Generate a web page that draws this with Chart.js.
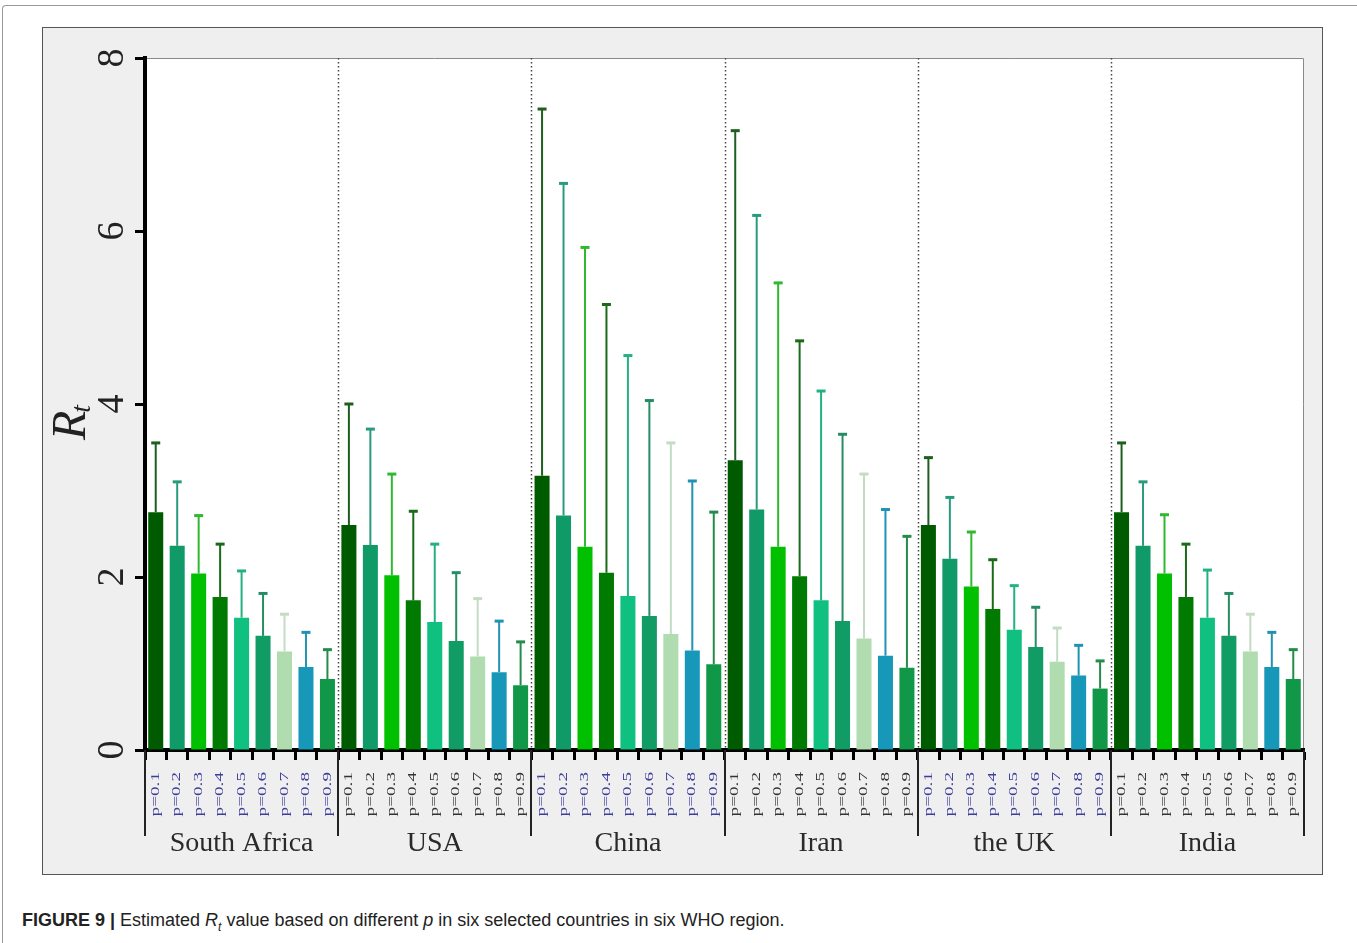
<!DOCTYPE html>
<html lang="en">
<head>
<meta charset="UTF-8">
<title>Estimated Rt by p</title>
<style>
    body {
        margin: 0;
        background: #fff;
        width: 1357px;
        height: 943px;
        position: relative;
        overflow: hidden;
        font-family: "Liberation Sans", Arial, sans-serif;
    }
    .frame {
        position: absolute;
        left: 2px;
        top: 5px;
        width: 1360px;
        height: 950px;
        border-top: 1px solid #9a9a9a;
        border-left: 1px solid #9a9a9a;
        border-top-left-radius: 4px;
    }
    #panel {
        position: absolute;
        left: 42px;
        top: 27px;
        width: 1281px;
        height: 848px;
        box-sizing: border-box;
        border: 1px solid #555;
        background: #efefef;
    }
    .caption {
        position: absolute;
        left: 22px;
        top: 910px;
        font-size: 18px;
        color: #222;
        font-family: "Liberation Sans Narrow", "Liberation Sans", Arial, sans-serif;
        white-space: nowrap;
    }
    .caption b { font-weight: bold; }
</style>
</head>
<body>
<div class="frame"></div>
<div id="panel"><canvas id="rtChart" width="1279" height="846"></canvas></div>
<div class="caption"><b>FIGURE 9 |</b> Estimated <i>R</i><sub style="font-size:12px;"><i>t</i></sub> value based on different <i>p</i> in six selected countries in six WHO region.</div>

<script src="https://cdn.jsdelivr.net/npm/chart.js"></script>
<script>
    const countries = ['South Africa', 'USA', 'China', 'Iran', 'the UK', 'India'];
    const pLabels = ['p=0.1', 'p=0.2', 'p=0.3', 'p=0.4', 'p=0.5', 'p=0.6', 'p=0.7', 'p=0.8', 'p=0.9'];
    const yTicks = [0, 2, 4, 6, 8];

    // estimated Rt and upper limit of the error bar, p = 0.1 .. 0.9
    const southAfricaRt    = [2.75, 2.36, 2.04, 1.77, 1.53, 1.32, 1.14, 0.96, 0.82];
    const southAfricaUpper = [3.55, 3.10, 2.71, 2.38, 2.07, 1.81, 1.57, 1.36, 1.16];
    const usaRt    = [2.60, 2.37, 2.02, 1.73, 1.48, 1.26, 1.08, 0.90, 0.75];
    const usaUpper = [4.00, 3.71, 3.19, 2.76, 2.38, 2.05, 1.75, 1.49, 1.25];
    const chinaRt    = [3.17, 2.71, 2.35, 2.05, 1.78, 1.55, 1.34, 1.15, 0.99];
    const chinaUpper = [7.41, 6.55, 5.81, 5.15, 4.56, 4.04, 3.55, 3.11, 2.75];
    const iranRt    = [3.35, 2.78, 2.35, 2.01, 1.73, 1.49, 1.29, 1.09, 0.95];
    const iranUpper = [7.16, 6.18, 5.40, 4.73, 4.15, 3.65, 3.19, 2.78, 2.47];
    const ukRt    = [2.60, 2.21, 1.89, 1.63, 1.39, 1.19, 1.02, 0.86, 0.71];
    const ukUpper = [3.38, 2.92, 2.52, 2.20, 1.90, 1.65, 1.41, 1.21, 1.03];
    const indiaRt    = [2.75, 2.36, 2.04, 1.77, 1.53, 1.32, 1.14, 0.96, 0.82];
    const indiaUpper = [3.55, 3.10, 2.72, 2.38, 2.08, 1.81, 1.57, 1.36, 1.16];

    const barColors = ['#005a00', '#109a68', '#00c000', '#007a00', '#10c080', '#109c64', '#b0dcb0', '#1898b8', '#109848'];
    const errColors = ['#1e5e1e', '#2a9a7e', '#30b830', '#1a6a1a', '#22b27e', '#268c64', '#c4dcc4', '#2092b2', '#248c48'];
    const tickColors = ['#3c3c9c', '#333333', '#3c3c9c', '#333333', '#3c3c9c', '#333333'];

    const rtValues = [].concat(southAfricaRt, usaRt, chinaRt, iranRt, ukRt, indiaRt);
    const rtUpper = [].concat(southAfricaUpper, usaUpper, chinaUpper, iranUpper, ukUpper, indiaUpper);
    const labels = [];
    countries.forEach(() => pLabels.forEach(p => labels.push(p)));

    const serif = '"Liberation Serif", "Times New Roman", serif';

    const decor = {
        id: 'decor',
        beforeDraw(chart) {
            const { ctx, chartArea: a } = chart;
            ctx.save();
            ctx.fillStyle = '#fff';
            ctx.fillRect(a.left, a.top, a.right - a.left, a.bottom - a.top);
            ctx.strokeStyle = '#8a8a8a';
            ctx.lineWidth = 1;
            ctx.beginPath();
            ctx.moveTo(a.left, a.top + 0.5);
            ctx.lineTo(a.right - 0.5, a.top + 0.5);
            ctx.lineTo(a.right - 0.5, a.bottom);
            ctx.stroke();
            ctx.restore();
        },
        beforeDatasetsDraw(chart) {
            const { ctx, chartArea: a, scales: { x } } = chart;
            ctx.save();
            ctx.strokeStyle = '#444';
            ctx.lineWidth = 1.5;
            ctx.setLineDash([1.5, 2.5]);
            for (let g = 1; g < countries.length; g++) {
                const xp = Math.round((x.getPixelForValue(g * 9 - 1) + x.getPixelForValue(g * 9)) / 2) + 0.5;
                ctx.beginPath();
                ctx.moveTo(xp, a.top);
                ctx.lineTo(xp, a.bottom);
                ctx.stroke();
            }
            ctx.restore();
        },
        afterDatasetsDraw(chart) {
            const { ctx, scales: { y } } = chart;
            const meta = chart.getDatasetMeta(0);
            ctx.save();
            meta.data.forEach((bar, i) => {
                const top = y.getPixelForValue(rtUpper[i]);
                const base = y.getPixelForValue(rtValues[i]);
                ctx.strokeStyle = errColors[i % 9];
                ctx.lineWidth = 2;
                ctx.beginPath();
                ctx.moveTo(bar.x, base);
                ctx.lineTo(bar.x, top);
                ctx.stroke();
                ctx.lineWidth = 3;
                ctx.beginPath();
                ctx.moveTo(bar.x - 4.5, top);
                ctx.lineTo(bar.x + 4.5, top);
                ctx.stroke();
            });
            ctx.restore();
        },
        afterDraw(chart) {
            const { ctx, chartArea: a, scales: { x, y } } = chart;
            ctx.save();

            // y tick labels, turned like the rest of the figure
            ctx.fillStyle = '#222';
            ctx.font = '38px ' + serif;
            ctx.textAlign = 'center';
            ctx.textBaseline = 'middle';
            yTicks.forEach(v => {
                ctx.save();
                ctx.translate(a.left - 32, y.getPixelForValue(v));
                ctx.rotate(-Math.PI / 2);
                ctx.fillText(String(v), 0, 0);
                ctx.restore();
            });

            // axis title R_t
            ctx.save();
            ctx.translate(a.left - 60, 440 - 28);
            ctx.rotate(-Math.PI / 2);
            ctx.textAlign = 'left';
            ctx.textBaseline = 'alphabetic';
            ctx.font = 'italic 48px ' + serif;
            ctx.fillText('R', 0, 0);
            const wR = ctx.measureText('R').width;
            ctx.font = 'italic 28px ' + serif;
            ctx.fillText('t', wR - 2, 5);
            ctx.restore();

            // category labels p=0.x
            ctx.font = '12px ' + serif;
            ctx.textAlign = 'right';
            ctx.textBaseline = 'middle';
            labels.forEach((lab, i) => {
                ctx.save();
                ctx.fillStyle = tickColors[Math.floor(i / 9)];
                ctx.translate(x.getPixelForValue(i), a.bottom + 22);
                ctx.rotate(-Math.PI / 2);
                ctx.scale(1.6, 1);
                ctx.fillText(lab, 0, 0);
                ctx.restore();
            });

            // group separators and country names
            const edges = [a.left];
            for (let g = 1; g < countries.length; g++) {
                edges.push((x.getPixelForValue(g * 9 - 1) + x.getPixelForValue(g * 9)) / 2);
            }
            edges.push(a.right);
            ctx.strokeStyle = '#222';
            ctx.lineWidth = 2;
            edges.forEach(e => {
                const xp = Math.round(e);
                ctx.beginPath();
                ctx.moveTo(xp, a.bottom);
                ctx.lineTo(xp, a.bottom + 86);
                ctx.stroke();
            });
            ctx.fillStyle = '#2a2a2a';
            ctx.font = '28px ' + serif;
            ctx.textAlign = 'center';
            ctx.textBaseline = 'middle';
            countries.forEach((c, g) => {
                ctx.fillText(c, (edges[g] + edges[g + 1]) / 2, a.bottom + 94);
            });
            ctx.restore();
        }
    };

    new Chart(document.getElementById('rtChart'), {
        type: 'bar',
        data: {
            labels: labels,
            datasets: [{
                data: rtValues,
                backgroundColor: rtValues.map((v, i) => barColors[i % 9]),
                borderWidth: 0,
                categoryPercentage: 1,
                barPercentage: 0.7
            }]
        },
        options: {
            responsive: false,
            animation: false,
            devicePixelRatio: 1,
            layout: { padding: { left: 0, top: 30, right: 18, bottom: 0 } },
            plugins: {
                legend: { display: false },
                tooltip: { enabled: false }
            },
            scales: {
                x: {
                    offset: true,
                    afterFit(scale) { scale.height = 124; },
                    border: { display: true, color: '#000', width: 4 },
                    grid: { drawOnChartArea: false, drawTicks: true, tickLength: 10, tickWidth: 3, color: '#000' },
                    ticks: { autoSkip: false, color: 'rgba(0,0,0,0)', font: { size: 8 }, maxRotation: 0, minRotation: 0 }
                },
                y: {
                    min: 0,
                    max: 8,
                    afterFit(scale) { scale.width = 102; },
                    border: { display: true, color: '#000', width: 4 },
                    grid: { drawOnChartArea: false, drawTicks: true, tickLength: 10, tickWidth: 3, color: '#000' },
                    ticks: { stepSize: 2, color: 'rgba(0,0,0,0)', font: { size: 8 } }
                }
            }
        },
        plugins: [decor]
    });
</script>
</body>
</html>
